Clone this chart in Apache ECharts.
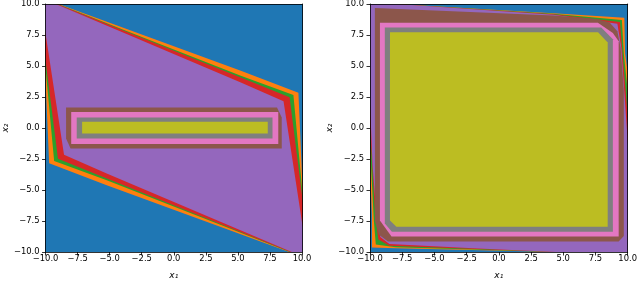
<!DOCTYPE html>
<html><head><meta charset="utf-8">
<script src="https://cdn.jsdelivr.net/npm/echarts@6/dist/echarts.min.js"></script>
<style>html,body{margin:0;padding:0;background:#fff}#c{width:640px;height:285px}</style>
</head><body><div id="c"></div>
<script>
// contour level colours (outermost -> innermost)
const levelColors = ['#1f77b4','#ff7f0e','#2ca02c','#d62728','#9467bd','#8c564b','#e377c2','#7f7f7f','#bcbd22'];
const tickValues = [-10, -7.5, -5, -2.5, 0, 2.5, 5, 7.5, 10];

// left panel: filled-contour region outlines (data coordinates x1, x2)
const leftBlue   = [[-11,-11],[11,-11],[11,11],[-11,11]];
const leftOrange = [[-10.6,10.6],[-9.0,10.0],[5.23,4.62],[9.72,2.84],[10.0,-3.8],[10.6,-10.6],[9.0,-10.0],[-5.23,-4.62],[-9.72,-2.84],[-10.0,3.8]];
const leftGreen  = [[-10.6,10.6],[-9.05,10.0],[5.23,4.22],[9.33,2.67],[10.0,-4.8],[10.6,-10.6],[9.05,-10.0],[-5.23,-4.22],[-9.33,-2.67],[-10.0,4.8]];
const leftRed    = [[-10.6,10.6],[-9.1,10.0],[5.23,4.08],[9.03,2.48],[10.0,-5.4],[10.6,-10.6],[9.1,-10.0],[-5.23,-4.08],[-9.03,-2.48],[-10.0,5.4]];
const leftPurple = [[-10.6,10.6],[-9.2,10.0],[5.23,3.66],[8.56,2.15],[10.0,-7.6],[10.6,-10.6],[9.2,-10.0],[-5.23,-3.66],[-8.56,-2.15],[-10.0,7.6]];
const leftBrown  = [[-8.4,1.65],[8.05,1.65],[8.42,0.85],[8.42,-1.65],[-8.05,-1.65],[-8.4,-0.85]];
const leftPink   = [[-8.0,1.3],[8.15,1.3],[8.15,-1.3],[-8.0,-1.3]];
const leftGray   = [[-7.57,0.85],[7.7,0.85],[7.7,-0.85],[-7.57,-0.85]];
const leftOlive  = [[-7.15,0.5],[7.33,0.5],[7.33,-0.45],[-7.15,-0.45]];

// right panel
const rightBlue   = [[-11,-11],[11,-11],[11,11],[-11,11]];
const rightOrange = [[-10.6,10.6],[-7.95,10.0],[4.23,9.26],[9.74,8.9],[9.8,6.0],[10.0,4.5],[10.6,-10.6],[4.6,-10.0],[-8.0,-9.7],[-9.85,-9.64],[-9.85,-7.0],[-10.0,-3.0],[-10.6,-3.0]];
const rightGreen  = [[-10.6,10.6],[-7.92,10.0],[4.23,9.22],[9.55,8.7],[9.7,6.0],[10.0,3.0],[10.6,-10.6],[4.5,-10.0],[-8.0,-9.62],[-9.55,-9.4],[-9.7,-7.5],[-10.0,-1.5],[-10.6,-1.5]];
const rightRed    = [[-10.6,10.6],[-7.9,10.0],[4.23,9.18],[9.4,8.55],[9.6,6.0],[10.0,1.0],[10.6,-10.6],[4.4,-10.0],[-8.5,-9.5],[-9.35,-9.0],[-9.6,-7.0],[-10.0,0.0],[-10.6,0.0]];
const rightPurple = [[-10.6,10.6],[-7.88,10.0],[4.23,9.14],[9.2,8.4],[9.5,6.5],[10.0,-1.0],[10.6,-10.6],[4.4,-10.0],[-2.0,-9.7],[-8.5,-9.35],[-9.2,-8.8],[-9.5,-7.0],[-9.8,-3.0],[-10.0,2.0],[-10.6,2.0]];
const rightBrown  = [[-9.62,9.67],[4.23,9.08],[7.6,8.8],[8.6,8.5],[9.2,7.8],[9.45,6.5],[9.7,3.0],[9.7,-8.7],[9.3,-9.15],[-8.6,-9.15],[-9.3,-8.6],[-9.62,-7.5]];
const rightPink   = [[-9.23,8.49],[7.69,8.49],[8.85,7.67],[9.3,7.0],[9.3,-8.75],[-8.33,-8.75],[-9.23,-7.46]];
const rightGray   = [[-8.85,8.10],[7.95,8.10],[8.85,7.15],[8.85,-8.36],[-8.3,-8.36],[-8.85,-7.7]];
const rightOlive  = [[-8.45,7.72],[7.7,7.72],[8.45,6.9],[8.45,-7.97],[-7.95,-7.97],[-8.45,-7.45]];

const leftLevels  = [leftBlue, leftOrange, leftGreen, leftRed, leftPurple, leftBrown, leftPink, leftGray, leftOlive];
const rightLevels = [rightBlue, rightOrange, rightGreen, rightRed, rightPurple, rightBrown, rightPink, rightGray, rightOlive];

const FONT = 'DejaVu Sans';
const fmt = v => (v.toFixed(1)).replace('-', '\u2212');

function grid(left){ return {left: left, top: 3, width: 260, height: 260, containLabel: false}; }

function mainX(gi){
  return {gridIndex: gi, type: 'value', min: -10, max: 10, interval: 2.5, z: 10,
    name: 'x\u2081', nameLocation: 'middle', nameGap: 19,
    nameTextStyle: {fontFamily: FONT, fontSize: 9, color: '#000', fontStyle: 'italic'},
    axisLine: {show: true, onZero: false, lineStyle: {color: '#000', width: 0.8}},
    axisTick: {show: true, length: 3.5, lineStyle: {color: '#000', width: 0.8}},
    axisLabel: {fontFamily: FONT, fontSize: 8.4, color: '#000', margin: 3, formatter: fmt, showMinLabel: true, showMaxLabel: true, hideOverlap: false},
    splitLine: {show: false}};
}
function mainY(gi){
  return {gridIndex: gi, type: 'value', min: -10, max: 10, interval: 2.5, z: 10,
    name: 'x\u2082', nameLocation: 'middle', nameGap: 31, nameRotate: 90,
    nameTextStyle: {fontFamily: FONT, fontSize: 9, color: '#000', fontStyle: 'italic'},
    axisLine: {show: true, onZero: false, lineStyle: {color: '#000', width: 0.8}},
    axisTick: {show: true, length: 3.5, lineStyle: {color: '#000', width: 0.8}},
    axisLabel: {fontFamily: FONT, fontSize: 8.4, color: '#000', margin: 6, formatter: fmt, showMinLabel: true, showMaxLabel: true, hideOverlap: false},
    splitLine: {show: false}};
}
function frameX(gi){
  return {gridIndex: gi, type: 'value', min: -10, max: 10, position: 'top', z: 10,
    axisLine: {show: true, onZero: false, lineStyle: {color: '#000', width: 0.8}},
    axisTick: {show: false}, axisLabel: {show: false}, splitLine: {show: false}};
}
function frameY(gi){
  return {gridIndex: gi, type: 'value', min: -10, max: 10, position: 'right', z: 10,
    axisLine: {show: true, onZero: false, lineStyle: {color: '#000', width: 0.8}},
    axisTick: {show: false}, axisLabel: {show: false}, splitLine: {show: false}};
}

function contourSeries(levels, xi, yi){
  return {
    type: 'custom', xAxisIndex: xi, yAxisIndex: yi, clip: true, silent: true, animation: false,
    data: levels.map((_, i) => [i]),
    renderItem: function(params, api){
      const i = api.value(0);
      const pts = levels[i].map(p => api.coord(p));
      return {type: 'polygon', shape: {points: pts}, style: {fill: levelColors[i], stroke: null}};
    }
  };
}

const chart = echarts.init(document.getElementById('c'), null, {renderer: 'canvas'});
chart.setOption({
  animation: false,
  grid: [grid(42), grid(370)],
  xAxis: [mainX(0), mainX(1), frameX(0), frameX(1)],
  yAxis: [mainY(0), mainY(1), frameY(0), frameY(1)],
  series: [contourSeries(leftLevels, 0, 0), contourSeries(rightLevels, 1, 1)]
});
</script></body></html>
